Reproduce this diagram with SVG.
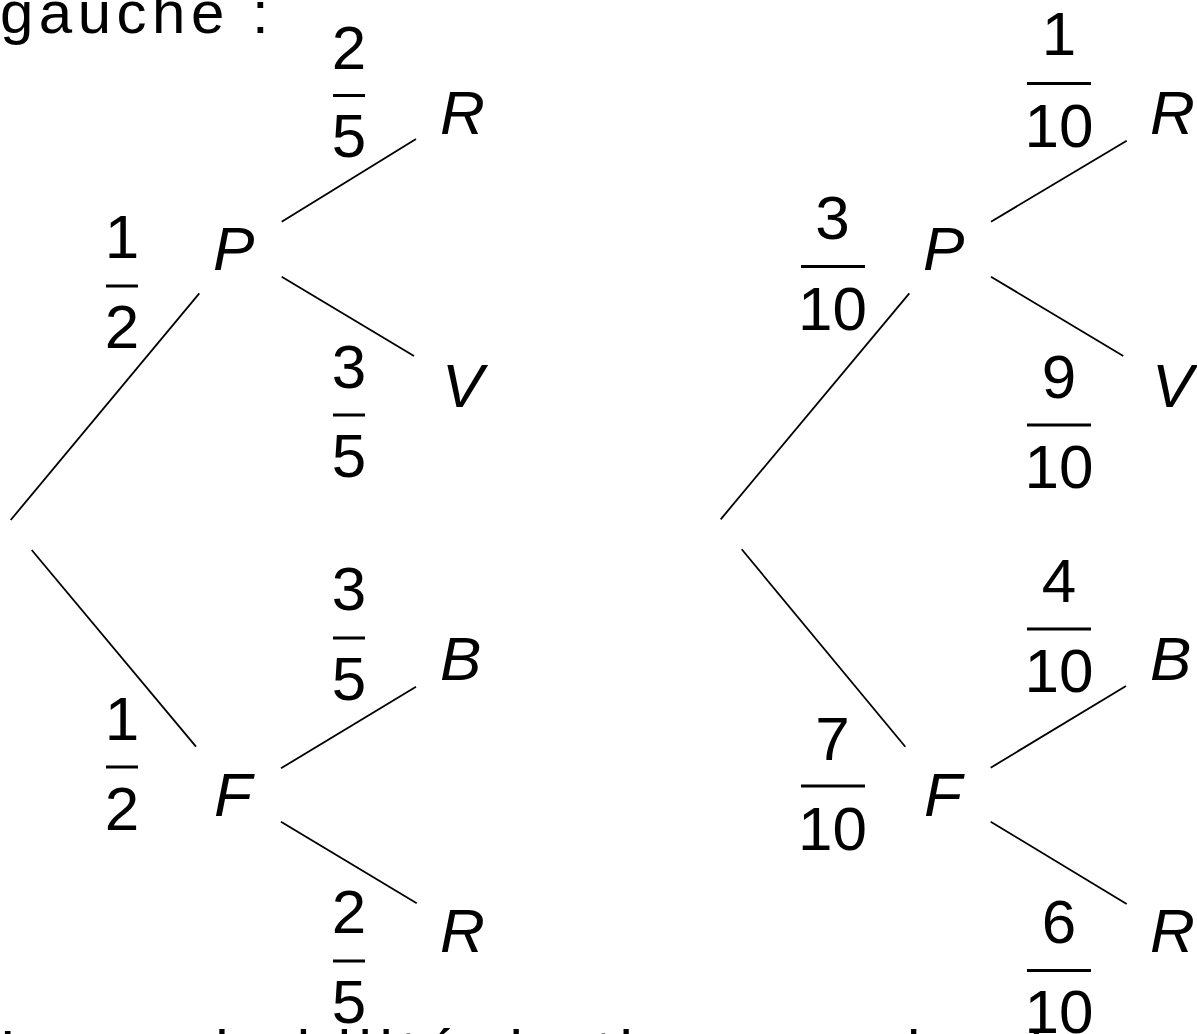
<svg xmlns="http://www.w3.org/2000/svg" width="1197" height="1034" viewBox="0 0 1197 1034">
<style>
.txt{font-family:"Liberation Sans",Arial,sans-serif;font-size:60px;fill:#000}
.var{font-family:"Liberation Sans",Arial,sans-serif;font-size:62px;font-style:italic;fill:#000}
.num{font-family:"Liberation Sans",Arial,sans-serif;font-size:62px;fill:#000;text-anchor:middle}
.edge{stroke:#000;stroke-width:1.8;fill:none;stroke-linecap:butt}
.bar{fill:#000}
</style>
<rect width="1197" height="1034" fill="#fff"/>
<text class="txt" x="0" y="33" letter-spacing="5.5">gauche :</text>
<text class="txt" x="0" y="1072" letter-spacing="7.5">La probabilité de tirer une boule</text>

<g id="connectors">
<line class="edge" x1="10.7" y1="520" x2="199.3" y2="293.3"/>
<line class="edge" x1="31.7" y1="550" x2="196" y2="746.7"/>
<line class="edge" x1="281.7" y1="221.7" x2="416" y2="139"/>
<line class="edge" x1="281.7" y1="276.7" x2="414" y2="356"/>
<line class="edge" x1="281" y1="768.3" x2="416" y2="686.7"/>
<line class="edge" x1="281" y1="821.7" x2="416.7" y2="903.3"/>
<line class="edge" x1="720.7" y1="519.3" x2="909.3" y2="293.3"/>
<line class="edge" x1="741.7" y1="549.3" x2="905.3" y2="746.7"/>
<line class="edge" x1="991" y1="221.7" x2="1126.7" y2="140.7"/>
<line class="edge" x1="991" y1="276.7" x2="1123.3" y2="356"/>
<line class="edge" x1="990.7" y1="767.7" x2="1126" y2="686"/>
<line class="edge" x1="990.7" y1="821.7" x2="1126.7" y2="904"/>
</g>

<g id="tree1-P"><text class="var" x="213" y="270">P</text></g>
<g id="tree1-PR"><text class="var" x="440" y="134">R</text></g>
<g id="tree1-PV"><text class="var" x="442" y="407">V</text></g>
<g id="tree1-F"><text class="var" x="214" y="816">F</text></g>
<g id="tree1-FB"><text class="var" x="440" y="680">B</text></g>
<g id="tree1-FR"><text class="var" x="440" y="952">R</text></g>

<g id="tree2-P"><text class="var" x="923" y="270">P</text></g>
<g id="tree2-PR"><text class="var" x="1150" y="134">R</text></g>
<g id="tree2-PV"><text class="var" x="1152" y="407">V</text></g>
<g id="tree2-F"><text class="var" x="924" y="816">F</text></g>
<g id="tree2-FB"><text class="var" x="1150" y="680">B</text></g>
<g id="tree2-FR"><text class="var" x="1150" y="952">R</text></g>

<g id="label-1-2-top"><text class="num" x="122" y="258">1</text><rect class="bar" x="106" y="284.5" width="32" height="3"/><text class="num" x="122" y="348">2</text></g>
<g id="label-2-5-top"><text class="num" x="349" y="69">2</text><rect class="bar" x="333" y="94" width="32" height="3"/><text class="num" x="349" y="157">5</text></g>
<g id="label-3-5-V"><text class="num" x="349" y="388">3</text><rect class="bar" x="333" y="413.5" width="32" height="3"/><text class="num" x="349" y="477">5</text></g>
<g id="label-3-5-B"><text class="num" x="349" y="610">3</text><rect class="bar" x="333" y="636.5" width="32" height="3"/><text class="num" x="349" y="700">5</text></g>
<g id="label-1-2-bot"><text class="num" x="122" y="740">1</text><rect class="bar" x="106" y="765.5" width="32" height="3"/><text class="num" x="122" y="830">2</text></g>
<g id="label-2-5-bot"><text class="num" x="349" y="933">2</text><rect class="bar" x="333" y="959.5" width="32" height="3"/><text class="num" x="349" y="1023">5</text></g>

<g id="label-1-10"><text class="num" x="1059" y="55">1</text><rect class="bar" x="1027" y="82" width="64" height="3"/><text class="num" x="1059" y="147">10</text></g>
<g id="label-3-10"><text class="num" x="832.5" y="239">3</text><rect class="bar" x="801" y="265" width="64" height="3"/><text class="num" x="832.5" y="330">10</text></g>
<g id="label-9-10"><text class="num" x="1059" y="398">9</text><rect class="bar" x="1027" y="423.5" width="64" height="3"/><text class="num" x="1059" y="488">10</text></g>
<g id="label-4-10"><text class="num" x="1059" y="602">4</text><rect class="bar" x="1027" y="627.5" width="64" height="3"/><text class="num" x="1059" y="692">10</text></g>
<g id="label-7-10"><text class="num" x="832.5" y="760">7</text><rect class="bar" x="801" y="784.5" width="64" height="3"/><text class="num" x="832.5" y="850">10</text></g>
<g id="label-6-10"><text class="num" x="1059" y="943">6</text><rect class="bar" x="1027" y="969" width="64" height="3"/><text class="num" x="1059" y="1033">10</text></g>
</svg>
